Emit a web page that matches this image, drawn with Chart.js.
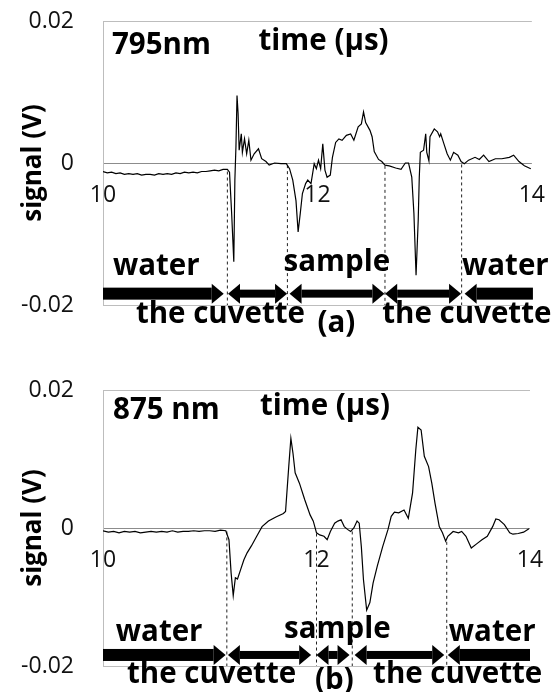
<!DOCTYPE html>
<html>
<head>
<meta charset="utf-8">
<script src="https://cdn.jsdelivr.net/npm/chart.js@4.4.1/dist/chart.umd.min.js"></script>
<style>
    body { margin: 0; background: #fff; }
    .panel { position: absolute; left: 0; width: 556px; height: 346px; }
</style>
</head>
<body>
<div class="panel" style="top:0"><canvas id="chartA" width="556" height="346"></canvas></div>
<div class="panel" style="top:346px"><canvas id="chartB" width="556" height="346"></canvas></div>
<script>
const xTicks = [10, 12, 14];
const yTicks = [-0.02, 0, 0.02];
const yTickLabels = ['-0.02', '0', '0.02'];

// (a) 795 nm trace, time in µs, signal in V
const timeA = [
    10.00, 10.04, 10.08, 10.12, 10.16, 10.20, 10.24, 10.28, 10.32, 10.36,
    10.40, 10.44, 10.48, 10.52, 10.56, 10.60, 10.64, 10.68, 10.72, 10.76,
    10.80, 10.84, 10.88, 10.92, 10.96, 11.00, 11.04, 11.08, 11.12, 11.16,
    11.18, 11.20, 11.22, 11.23, 11.24, 11.25, 11.26, 11.27, 11.29, 11.30,
    11.32, 11.34, 11.36, 11.38, 11.41, 11.45, 11.48, 11.52, 11.55, 11.60,
    11.66, 11.71, 11.74, 11.77, 11.80, 11.82, 11.84, 11.86, 11.89, 11.91,
    11.94, 11.97, 11.99, 12.01, 12.03, 12.05, 12.07, 12.09, 12.12, 12.14,
    12.17, 12.20, 12.23, 12.27, 12.31, 12.34, 12.38, 12.41, 12.43, 12.45,
    12.49, 12.51, 12.53, 12.57, 12.60, 12.63, 12.67, 12.73, 12.78, 12.82,
    12.85, 12.88, 12.90, 12.92, 12.94, 12.95, 12.96, 12.99, 13.01, 13.02,
    13.04, 13.05, 13.09, 13.12, 13.14, 13.15, 13.18, 13.21, 13.24, 13.27,
    13.31, 13.34, 13.37, 13.41, 13.47, 13.51, 13.55, 13.60, 13.66, 13.72,
    13.79, 13.83, 13.88, 13.93, 13.99
];
const signalA = [
    -0.0012, -0.0014, -0.0013, -0.0015, -0.0014, -0.0016, -0.0015, -0.0016, -0.0015, -0.0017,
    -0.0016, -0.0016, -0.0017, -0.0015, -0.0016, -0.0015, -0.0016, -0.0014, -0.0015, -0.0013,
    -0.0014, -0.0013, -0.0014, -0.0012, -0.0012, -0.0011, -0.0010, -0.0011, -0.0009, -0.0009,
    -0.0013, -0.0071, -0.0139, -0.0024, 0.0023, 0.0095, 0.0070, 0.0018, 0.0041, 0.0015,
    0.0034, 0.0013, 0.0032, 0.0004, 0.0013, 0.0020, 0.0006, 0.0002, -0.0003, 0.0000,
    -0.0001, -0.0001, -0.0008, -0.0024, -0.0053, -0.0097, -0.0071, -0.0043, -0.0029, -0.0024,
    -0.0029, -0.0001, -0.0008, 0.0004, -0.0008, 0.0027, -0.0010, -0.0020, -0.0017, 0.0008,
    0.0029, 0.0034, 0.0032, 0.0039, 0.0041, 0.0032, 0.0051, 0.0055, 0.0072, 0.0057,
    0.0046, 0.0037, 0.0016, 0.0005, 0.0002, -0.0003, -0.0004, -0.0007, -0.0009, 0.0000,
    0.0000, -0.0020, -0.0071, -0.0158, -0.0081, -0.0020, 0.0015, 0.0018, 0.0041, 0.0015,
    0.0003, 0.0037, 0.0048, 0.0044, 0.0037, 0.0041, 0.0027, 0.0013, 0.0004, 0.0015,
    0.0011, 0.0002, -0.0001, 0.0004, 0.0008, 0.0005, 0.0011, 0.0002, 0.0006, 0.0006,
    0.0008, 0.0011, 0.0002, -0.0004, -0.0008
];

// (b) 875 nm trace
const timeB = [
    10.00, 10.05, 10.10, 10.15, 10.20, 10.25, 10.30, 10.35, 10.40, 10.45,
    10.50, 10.55, 10.60, 10.65, 10.70, 10.75, 10.80, 10.85, 10.90, 10.95,
    11.00, 11.05, 11.10, 11.15, 11.18, 11.20, 11.22, 11.24, 11.26, 11.29,
    11.32, 11.35, 11.39, 11.44, 11.49, 11.55, 11.62, 11.69, 11.71, 11.74,
    11.76, 11.78, 11.80, 11.84, 11.89, 11.94, 11.97, 12.00, 12.03, 12.07,
    12.10, 12.13, 12.17, 12.20, 12.23, 12.26, 12.29, 12.32, 12.35, 12.38,
    12.40, 12.42, 12.44, 12.47, 12.50, 12.53, 12.57, 12.62, 12.67, 12.70,
    12.73, 12.77, 12.82, 12.86, 12.90, 12.93, 12.95, 12.98, 13.01, 13.05,
    13.08, 13.11, 13.15, 13.18, 13.21, 13.23, 13.28, 13.33, 13.36, 13.40,
    13.45, 13.50, 13.55, 13.60, 13.65, 13.68, 13.71, 13.76, 13.81, 13.84,
    13.89, 13.94, 13.99
];
const signalB = [
    -0.0004, -0.0006, -0.0005, -0.0007, -0.0005, -0.0006, -0.0005, -0.0007, -0.0006, -0.0005,
    -0.0006, -0.0005, -0.0006, -0.0004, -0.0006, -0.0005, -0.0005, -0.0004, -0.0005, -0.0004,
    -0.0004, -0.0005, -0.0003, -0.0004, -0.0017, -0.0065, -0.0098, -0.0072, -0.0074, -0.0060,
    -0.0046, -0.0036, -0.0026, -0.0012, 0.0002, 0.0010, 0.0016, 0.0021, 0.0024, 0.0089,
    0.0130, 0.0108, 0.0080, 0.0065, 0.0041, 0.0019, 0.0010, -0.0007, -0.0010, -0.0012,
    -0.0017, -0.0005, 0.0007, 0.0010, 0.0012, 0.0002, -0.0002, -0.0005, 0.0000, 0.0010,
    0.0007, -0.0027, -0.0075, -0.0119, -0.0108, -0.0080, -0.0055, -0.0027, -0.0002, 0.0017,
    0.0023, 0.0022, 0.0026, 0.0014, 0.0051, 0.0113, 0.0146, 0.0142, 0.0104, 0.0089,
    0.0065, 0.0036, 0.0002, -0.0007, -0.0019, -0.0012, -0.0005, -0.0007, -0.0005, -0.0012,
    -0.0029, -0.0023, -0.0017, -0.0012, 0.0002, 0.0013, 0.0012, 0.0005, -0.0007, -0.0009,
    -0.0008, -0.0006, -0.0001
];

// dashed boundaries: time and the signal level where the dash starts
const cutTimesA = [11.16, 11.72, 12.63, 13.345];
const cutTopsA = [-0.0012, -0.0003, -0.0004, -0.0002];
const cutTimesB = [11.16, 12.0, 12.335, 13.22];
const cutTopsB = [-0.0005, -0.0008, -0.0005, -0.0020];

// region arrows (µs)
const arrowFromA = [10.0, 11.166, 11.74, 12.632, 13.373];
const arrowToA = [11.126, 11.717, 12.625, 13.34, 14.01];
const arrowKindA = ['right', 'both', 'both', 'both', 'left'];
const arrowFromB = [10.0, 11.17, 12.0, 12.357, 13.23];
const arrowToB = [11.149, 11.95, 12.31, 13.197, 14.0];
const arrowKindB = ['right', 'both', 'both', 'both', 'left'];

const AXIS_GRAY = '#bdbdbd';
const ZERO_GRAY = '#8c8c8c';
const TICK_FONT = { family: "'Open Sans'", size: 23 };
const BOLD = "bold 29.5px 'Open Sans'";

function drawArrow(ctx, x0, x1, y, kind) {
    const headLen = 12, headH = 10;
    const bar = kind === 'both' ? 4 : 6;
    const l = kind === 'right' ? x0 : x0 + headLen;
    const r = kind === 'left' ? x1 : x1 - headLen;
    ctx.fillRect(l, y - bar, r - l, bar * 2);
    if (kind !== 'left') {
        ctx.beginPath();
        ctx.moveTo(r, y - headH); ctx.lineTo(x1, y); ctx.lineTo(r, y + headH);
        ctx.closePath(); ctx.fill();
    }
    if (kind !== 'right') {
        ctx.beginPath();
        ctx.moveTo(l, y - headH); ctx.lineTo(x0, y); ctx.lineTo(l, y + headH);
        ctx.closePath(); ctx.fill();
    }
}

const annotatePlugin = {
    id: 'annotate',
    afterDraw(chart, args, opts) {
        const { ctx, scales: { x, y } } = chart;
        ctx.save();
        ctx.fillStyle = '#000';
        const ay = y.getPixelForValue(opts.arrowLevel);
        opts.from.forEach((t, i) => {
            drawArrow(ctx, x.getPixelForValue(t), x.getPixelForValue(opts.to[i]), ay, opts.kind[i]);
        });
        ctx.font = BOLD;
        ctx.textAlign = 'left';
        ctx.textBaseline = 'alphabetic';
        opts.labels.forEach(l => {
            ctx.fillText(l.text, x.getPixelForValue(l.t), y.getPixelForValue(l.v));
        });
        ctx.restore();
    }
};

function traceData(times, values) {
    return times.map((t, i) => ({ x: t, y: values[i] }));
}

function makeChart(id, times, values, cutTimes, cutTops, annot, padding) {
    const ctx = document.getElementById(id)?.getContext('2d');
    if (!ctx) return;
    const datasets = [{
        data: traceData(times, values),
        borderColor: '#000',
        borderWidth: 1.2,
        pointRadius: 0,
        tension: 0
    }];
    cutTimes.forEach((t, i) => {
        datasets.push({
            data: [{ x: t, y: cutTops[i] }, { x: t, y: yTicks[0] }],
            borderColor: '#222',
            borderWidth: 1,
            borderDash: [3, 3],
            pointRadius: 0
        });
    });
    new Chart(ctx, {
        type: 'line',
        data: { datasets },
        options: {
            responsive: false,
            animation: false,
            devicePixelRatio: 1,
            layout: { padding },
            plugins: {
                legend: { display: false },
                tooltip: { enabled: false },
                annotate: annot
            },
            scales: {
                x: {
                    type: 'linear',
                    position: { y: 0 },
                    min: 10,
                    max: 14,
                    afterBuildTicks: s => { s.ticks = xTicks.map(v => ({ value: v })); },
                    afterFit: s => { s.height = 0; },
                    ticks: { font: TICK_FONT, color: '#111', padding: 11, maxRotation: 0 },
                    grid: { display: false },
                    border: { display: false }
                },
                y: {
                    min: yTicks[0],
                    max: yTicks[yTicks.length - 1],
                    afterBuildTicks: s => { s.ticks = yTicks.map(v => ({ value: v })); },
                    afterFit: s => {
                        s.width = 103;
                        s.paddingTop = 0;
                        s.paddingBottom = 0;
                    },
                    ticks: {
                        font: TICK_FONT,
                        color: '#111',
                        padding: 29,
                        callback: (val, i) => yTickLabels[i]
                    },
                    grid: {
                        drawTicks: false,
                        color: c => (c.tick && c.tick.value === 0 ? ZERO_GRAY : AXIS_GRAY)
                    },
                    border: { color: AXIS_GRAY },
                    title: {
                        display: true,
                        text: 'signal (V)',
                        color: '#000',
                        font: { family: "'Open Sans'", size: 26, weight: 'bold' },
                        padding: { top: 18, bottom: 0 }
                    }
                }
            }
        },
        plugins: [annotatePlugin]
    });
}

document.addEventListener('DOMContentLoaded', () => {
    makeChart('chartA', timeA, signalA, cutTimesA, cutTopsA, {
        arrowLevel: -0.0184,
        from: arrowFromA, to: arrowToA, kind: arrowKindA,
        labels: [
            { text: '795nm', t: 10.084, v: 0.0153 },
            { text: 'time (µs)', t: 11.451, v: 0.0159 },
            { text: 'water', t: 10.093, v: -0.0158 },
            { text: 'sample', t: 11.684, v: -0.0152 },
            { text: 'water', t: 13.349, v: -0.0158 },
            { text: 'the cuvette', t: 10.307, v: -0.0226 },
            { text: '(a)', t: 12.0, v: -0.0238 },
            { text: 'the cuvette', t: 12.605, v: -0.0226 }
        ]
    }, { top: 21, bottom: 41, right: 23, left: 0 });

    makeChart('chartB', timeB, signalB, cutTimesB, cutTopsB, {
        arrowLevel: -0.0184,
        from: arrowFromB, to: arrowToB, kind: arrowKindB,
        labels: [
            { text: '875 nm', t: 10.094, v: 0.0158 },
            { text: 'time (µs)', t: 11.47, v: 0.0164 },
            { text: 'water', t: 10.12, v: -0.0164 },
            { text: 'sample', t: 11.696, v: -0.0159 },
            { text: 'water', t: 13.24, v: -0.0164 },
            { text: 'the cuvette', t: 10.225, v: -0.0225 },
            { text: '(b)', t: 11.986, v: -0.0234 },
            { text: 'the cuvette', t: 12.53, v: -0.0225 }
        ]
    }, { top: 44, bottom: 26, right: 26, left: 0 });
});
</script>
</body>
</html>
